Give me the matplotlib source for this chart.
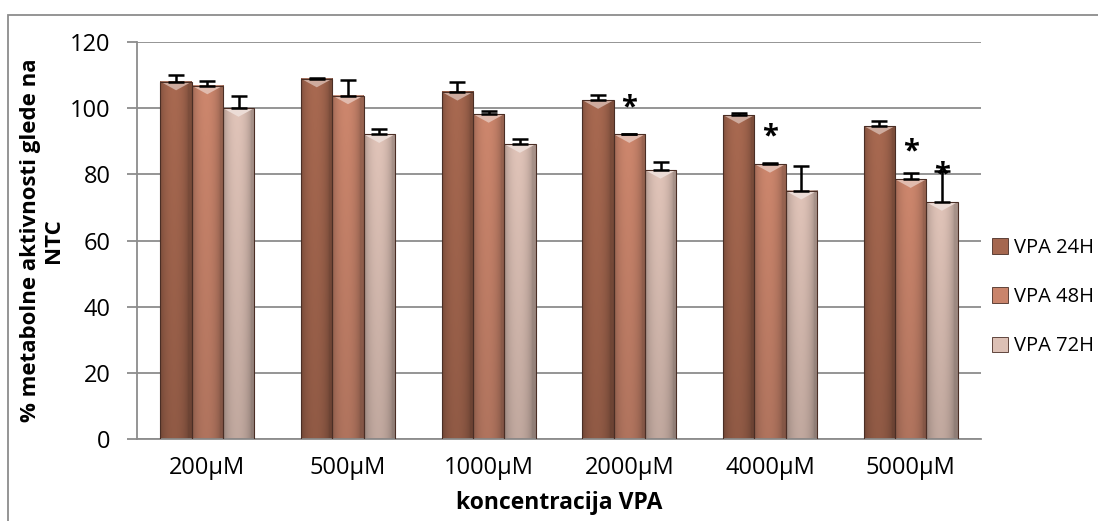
import numpy as np
import matplotlib.pyplot as plt
import matplotlib.colors as mcolors
from matplotlib.patches import Rectangle, Polygon

# concentration groups and series
concentrations = ['200µM', '500µM', '1000µM', '2000µM', '4000µM', '5000µM']
series_names = ['VPA 24H', 'VPA 48H', 'VPA 72H']

vpa_24h = [108.0, 108.9, 104.9, 102.4, 97.9, 94.6]
vpa_48h = [106.8, 103.8, 98.2, 92.1, 83.1, 78.5]
vpa_72h = [100.0, 92.1, 89.1, 81.3, 75.0, 71.6]

err_24h = [2.1, 0.3, 3.1, 1.6, 0.6, 1.4]
err_48h = [1.4, 4.6, 0.8, 0.2, 0.3, 1.9]
err_72h = [3.7, 1.6, 1.5, 2.4, 7.5, 9.5]

# significance marks: group index, series index, height of the star
star_group = [3, 4, 5, 5]
star_series = [1, 1, 1, 2]
star_y = [100.0, 91.2, 86.7, 79.8]

colors = ['#a5674f', '#c9846b', '#dcc0b5']
edge = '#4a2e25'

plt.rcParams['font.family'] = ['Open Sans', 'DejaVu Sans']

fig = plt.figure(figsize=(10.98, 5.21), dpi=100)
ax = fig.add_axes([137/1098, 1 - 439/521, (981-137)/1098, (439-42)/521])

x = np.arange(len(concentrations))
width = 0.222
values = [vpa_24h, vpa_48h, vpa_72h]
errors = [err_24h, err_48h, err_72h]

ax.set_axisbelow(True)
ax.yaxis.grid(True, color='#8c8c8c', lw=1.3)

# horizontal shading across a bar (dark edges, light middle), vertical darkening to the base
hx = np.linspace(0, 1, 40)
hprof = 0.76 + 0.26 * np.sin(np.pi * np.clip(hx * 1.12, 0, 1)) ** 0.6
vprof = 0.86 + 0.14 * (1 - np.linspace(0, 1, 60))[:, None]

for i, (vals, errs, c) in enumerate(zip(values, errors, colors)):
    xs = x + (i - 1) * width
    bars = ax.bar(xs, vals, width, facecolor='none', edgecolor=edge, lw=0.8, zorder=3)
    ax.errorbar(xs, vals, yerr=[np.zeros(len(errs)), errs], fmt='none', ecolor='black',
                elinewidth=1.8, capsize=5.5, capthick=1.8, zorder=4)
    base = np.array(mcolors.to_rgb(c))
    for b in bars:
        x0, w, h = b.get_x(), b.get_width(), b.get_height()
        img = np.clip(base[None, None, :] * hprof[None, :, None] * vprof[:, :, None], 0, 1)
        ax.imshow(img, extent=[x0, x0 + w, 0, h], aspect='auto', zorder=2,
                  interpolation='bilinear')
        # bevel on top of the bar
        bev = 2.6
        light = base + (1 - base) * 0.45
        ax.add_patch(Polygon([[x0, h], [x0 + w, h], [x0 + w / 2, h - bev]],
                             closed=True, facecolor=light, edgecolor='none', zorder=2.5))

for g, s, yv in zip(star_group, star_series, star_y):
    ax.text(x[g] + (s - 1) * width, yv, '*', ha='center', va='center',
            fontsize=21, fontweight='bold', color='black', zorder=5)

ax.set_xlim(-0.5, len(concentrations) - 0.5)
ax.set_ylim(0, 120)
ax.set_yticks(np.arange(0, 121, 20))
ax.set_xticks(x)
ax.set_xticklabels(concentrations)
ax.tick_params(axis='x', length=0, labelsize=17, pad=12)
ax.tick_params(axis='y', length=7, color='#8c8c8c', width=1.3, labelsize=17, pad=12)
for sp in ['top', 'right']:
    ax.spines[sp].set_visible(False)
for sp in ['left', 'bottom']:
    ax.spines[sp].set_color('#8c8c8c')
    ax.spines[sp].set_linewidth(1.3)

ax.set_xlabel('koncentracija VPA', fontsize=16.5, fontweight='bold')
ax.xaxis.set_label_coords(0.5, -(503 - 439) / 397, transform=ax.transAxes)
ax.xaxis.label.set_va('center')
ax.set_ylabel('% metabolne aktivnosti glede na\nNTC', fontsize=16, fontweight='bold',
              linespacing=1.15)
ax.yaxis.set_label_coords((42 - 137) / 844, 0.5, transform=ax.transAxes)
ax.yaxis.label.set_va('center')

handles = [Rectangle((0, 0), 1, 1, facecolor=c, edgecolor=edge, lw=0.6) for c in colors]
fig.legend(handles, series_names, loc='center left', bbox_to_anchor=(984/1098, 1 - 297/521),
           frameon=False, fontsize=14.5, handlelength=0.8, handleheight=0.8,
           handletextpad=0.3, labelspacing=1.45, borderaxespad=0)

# outer chart border (runs off the right and bottom edges)
top = 1 - 15/521
fig.add_artist(Rectangle((8/1098, -0.2), 1.2, top + 0.2, transform=fig.transFigure,
                         facecolor='none', edgecolor='#8c8c8c', lw=1.3))

fig.savefig('out.png', dpi=100)
